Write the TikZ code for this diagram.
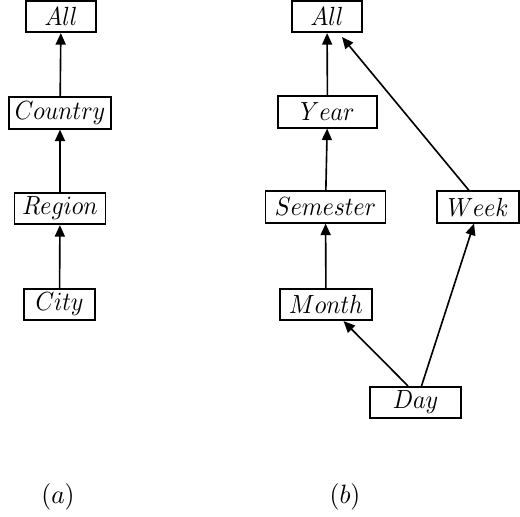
\documentclass[tikz,border=0pt]{standalone}
\usetikzlibrary{arrows.meta}
\usepackage{graphicx}
\newcommand\sqtxt[1]{\scalebox{0.95}[1.05]{$#1$}}
\begin{document}
\begin{tikzpicture}[x=0.4pt,y=-0.4pt,
  lvl/.style={draw, line width=0.65pt, rectangle, inner sep=0pt, minimum height=12.6pt},
  edge/.style={line width=0.65pt, -{Triangle[length=4.6pt,width=4pt]}}]
\useasboundingbox (0,0) rectangle (520,516);
% (a)
\node[lvl, minimum width=28pt] (aAll) at (61,16.5) {\sqtxt{All}};
\node[lvl, minimum width=41pt] (aCountry) at (60,113) {\sqtxt{Country}};
\node[lvl, minimum width=36.4pt] (aRegion) at (60,208.5) {\sqtxt{Region}};
\node[lvl, minimum width=28.4pt] (aCity) at (59.5,304.5) {\sqtxt{City}};
\draw[edge] (aCountry) -- (aAll);
\draw[edge] (aRegion) -- (aCountry);
\draw[edge] (aCity) -- (aRegion);
% (b)
\node[lvl, minimum width=28pt] (bAll) at (327,16.5) {\sqtxt{All}};
\node[lvl, minimum width=39.6pt] (bYear) at (327.5,112) {\sqtxt{Year}};
\node[lvl, minimum width=48pt] (bSem) at (325.5,207) {\sqtxt{Semester}};
\node[lvl, minimum width=32.8pt] (bWeek) at (478,207) {\sqtxt{Week}};
\node[lvl, minimum width=36.8pt] (bMonth) at (326,304.5) {\sqtxt{Month}};
\node[lvl, minimum width=36.4pt] (bDay) at (415.5,402.5) {\sqtxt{Day}};
\draw[edge] (bYear) -- (bAll);
\draw[edge] (bSem) -- (bYear);
\draw[edge] (bMonth) -- (bSem);
\draw[edge] ([xshift=-3.6pt]bWeek.north) -- ([xshift=6pt,yshift=-1.6pt]bAll.south);
\draw[edge] ([xshift=-3pt]bDay.north) -- ([xshift=7pt]bMonth.south);
\draw[edge] ([xshift=2.4pt]bDay.north) -- ([xshift=-1.6pt]bWeek.south);
% captions
\node (capA) at (58,497) {\scalebox{1.02}[1.06]{$(a)$}};
\node (capB) at (345,497) {\scalebox{1.02}[1.06]{$(b)$}};
\end{tikzpicture}
\end{document}
